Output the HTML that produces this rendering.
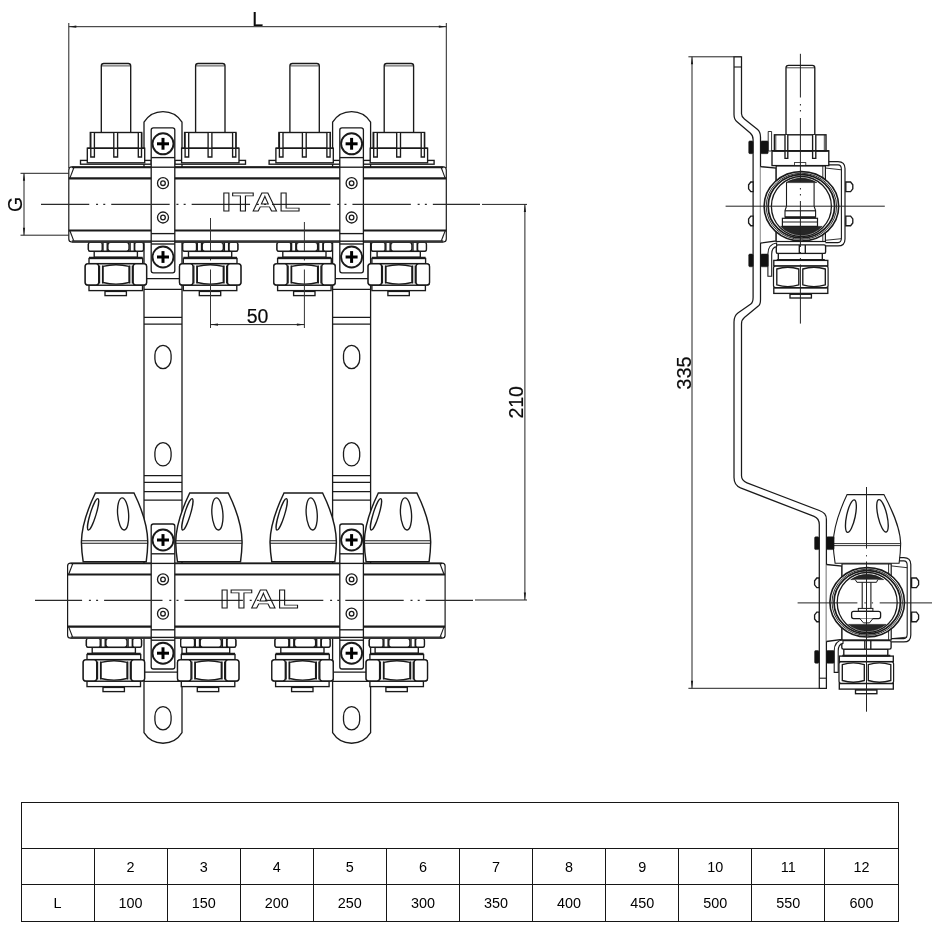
<!DOCTYPE html>
<html lang="en"><head><meta charset="utf-8"><title>Manifold dimensions</title>
<style>
html,body{margin:0;padding:0;background:#fff}
body{width:941px;height:929px;position:relative;overflow:hidden;will-change:transform;font-family:"Liberation Sans",sans-serif;color:#111}
svg{position:absolute;left:0;top:0;display:block}
svg text{font-family:"Liberation Sans",sans-serif}
table.t{position:absolute;left:20.5px;top:801.5px;width:878px;border-collapse:collapse;table-layout:fixed;font-size:14.4px;text-align:center;color:#000}
table.t td{border:1px solid #161616;padding:2px 0 0 0;vertical-align:middle;line-height:1}
tr.h td{height:43px} tr.a td{height:33.5px} tr.b td{height:36px;padding-top:0}
</style></head><body>
<svg width="941" height="929" viewBox="0 0 941 929" shape-rendering="geometricPrecision">
<g id="front">
<line x1="68.8" y1="23" x2="68.8" y2="168" stroke="#222" stroke-width="1"/>
<line x1="446.3" y1="23" x2="446.3" y2="168" stroke="#222" stroke-width="1"/>
<line x1="68.8" y1="26.7" x2="446.3" y2="26.7" stroke="#222" stroke-width="1"/>
<polygon points="68.8,26.7 76.3,25.6 76.3,27.8" fill="#1a1a1a"/>
<polygon points="446.3,26.7 438.8,27.8 438.8,25.6" fill="#1a1a1a"/>
<text x="257.7" y="25.5" font-size="19.5" text-anchor="middle" fill="#0a0a0a" stroke="#0a0a0a" stroke-width="0.18">L</text>
<line x1="20.5" y1="173.3" x2="68.8" y2="173.3" stroke="#222" stroke-width="1"/>
<line x1="20.5" y1="235.2" x2="68.8" y2="235.2" stroke="#222" stroke-width="1"/>
<line x1="24" y1="173.3" x2="24" y2="235.2" stroke="#222" stroke-width="1"/>
<polygon points="24,173.3 25.1,180.8 22.9,180.8" fill="#1a1a1a"/>
<polygon points="24,235.2 22.9,227.7 25.1,227.7" fill="#1a1a1a"/>
<text x="22.3" y="204.3" font-size="19.5" text-anchor="middle" fill="#0a0a0a" stroke="#0a0a0a" stroke-width="0.18" transform="rotate(-90 22.3 204.3)">G</text>
<line x1="482" y1="204.4" x2="527" y2="204.4" stroke="#222" stroke-width="1"/>
<line x1="475" y1="600" x2="527" y2="600" stroke="#222" stroke-width="1"/>
<line x1="524.9" y1="204.4" x2="524.9" y2="600" stroke="#222" stroke-width="1"/>
<polygon points="524.9,204.4 526,211.9 523.8,211.9" fill="#1a1a1a"/>
<polygon points="524.9,600 523.8,592.5 526,592.5" fill="#1a1a1a"/>
<text x="522.6" y="402.3" font-size="19.5" text-anchor="middle" fill="#0a0a0a" stroke="#0a0a0a" stroke-width="0.18" transform="rotate(-90 522.6 402.3)">210</text>
<line x1="688.4" y1="56.8" x2="741.3" y2="56.8" stroke="#222" stroke-width="1"/>
<line x1="688.4" y1="688.3" x2="826" y2="688.3" stroke="#222" stroke-width="1"/>
<line x1="692" y1="56.8" x2="692" y2="688.3" stroke="#222" stroke-width="1"/>
<polygon points="692,56.8 693.1,64.3 690.9,64.3" fill="#1a1a1a"/>
<polygon points="692,688.3 690.9,680.8 693.1,680.8" fill="#1a1a1a"/>
<text x="691" y="373" font-size="20" text-anchor="middle" fill="#0a0a0a" stroke="#0a0a0a" stroke-width="0.18" transform="rotate(-90 691 373)">335</text>
<path d="M144,732.7 L144,122.2 A22.4,22.4 0 0 1 182,122.2 L182,732.7 A22.4,22.4 0 0 1 144,732.7 Z" fill="#fff" stroke="#1a1a1a" stroke-width="1.3"/>
<line x1="144" y1="278.6" x2="182" y2="278.6" stroke="#1a1a1a" stroke-width="1.25"/>
<line x1="144" y1="289.3" x2="182" y2="289.3" stroke="#1a1a1a" stroke-width="1.25"/>
<line x1="144" y1="317.3" x2="182" y2="317.3" stroke="#1a1a1a" stroke-width="1.25"/>
<line x1="144" y1="324" x2="182" y2="324" stroke="#1a1a1a" stroke-width="1.25"/>
<line x1="144" y1="475.6" x2="182" y2="475.6" stroke="#1a1a1a" stroke-width="1.25"/>
<line x1="144" y1="482.3" x2="182" y2="482.3" stroke="#1a1a1a" stroke-width="1.25"/>
<line x1="144" y1="491.5" x2="182" y2="491.5" stroke="#1a1a1a" stroke-width="1.25"/>
<line x1="144" y1="500.2" x2="182" y2="500.2" stroke="#1a1a1a" stroke-width="1.25"/>
<line x1="144" y1="672" x2="182" y2="672" stroke="#1a1a1a" stroke-width="1.25"/>
<line x1="144" y1="681.3" x2="182" y2="681.3" stroke="#1a1a1a" stroke-width="1.25"/>
<rect x="154.9" y="345.4" width="16.2" height="23.2" rx="8.1" ry="9.6" fill="none" stroke="#1a1a1a" stroke-width="1.3"/>
<rect x="154.9" y="442.7" width="16.2" height="23.2" rx="8.1" ry="9.6" fill="none" stroke="#1a1a1a" stroke-width="1.3"/>
<rect x="154.9" y="706.6" width="16.2" height="23.2" rx="8.1" ry="9.6" fill="none" stroke="#1a1a1a" stroke-width="1.3"/>
<path d="M332.6,732.7 L332.6,122.2 A22.4,22.4 0 0 1 370.6,122.2 L370.6,732.7 A22.4,22.4 0 0 1 332.6,732.7 Z" fill="#fff" stroke="#1a1a1a" stroke-width="1.3"/>
<line x1="332.6" y1="278.6" x2="370.6" y2="278.6" stroke="#1a1a1a" stroke-width="1.25"/>
<line x1="332.6" y1="289.3" x2="370.6" y2="289.3" stroke="#1a1a1a" stroke-width="1.25"/>
<line x1="332.6" y1="317.3" x2="370.6" y2="317.3" stroke="#1a1a1a" stroke-width="1.25"/>
<line x1="332.6" y1="324" x2="370.6" y2="324" stroke="#1a1a1a" stroke-width="1.25"/>
<line x1="332.6" y1="475.6" x2="370.6" y2="475.6" stroke="#1a1a1a" stroke-width="1.25"/>
<line x1="332.6" y1="482.3" x2="370.6" y2="482.3" stroke="#1a1a1a" stroke-width="1.25"/>
<line x1="332.6" y1="491.5" x2="370.6" y2="491.5" stroke="#1a1a1a" stroke-width="1.25"/>
<line x1="332.6" y1="500.2" x2="370.6" y2="500.2" stroke="#1a1a1a" stroke-width="1.25"/>
<line x1="332.6" y1="672" x2="370.6" y2="672" stroke="#1a1a1a" stroke-width="1.25"/>
<line x1="332.6" y1="681.3" x2="370.6" y2="681.3" stroke="#1a1a1a" stroke-width="1.25"/>
<rect x="343.5" y="345.4" width="16.2" height="23.2" rx="8.1" ry="9.6" fill="none" stroke="#1a1a1a" stroke-width="1.3"/>
<rect x="343.5" y="442.7" width="16.2" height="23.2" rx="8.1" ry="9.6" fill="none" stroke="#1a1a1a" stroke-width="1.3"/>
<rect x="343.5" y="706.6" width="16.2" height="23.2" rx="8.1" ry="9.6" fill="none" stroke="#1a1a1a" stroke-width="1.3"/>
<path d="M101.3,132.3 L101.3,66 Q101.3,63.5 103.8,63.5 L128.2,63.5 Q130.7,63.5 130.7,66 L130.7,132.3" fill="#fff" stroke="#1a1a1a" stroke-width="1.35"/>
<line x1="101.8" y1="65.9" x2="130.2" y2="65.9" stroke="#1a1a1a" stroke-width="0.8"/>
<rect x="80.5" y="160.4" width="70.7" height="3.8" fill="#fff" stroke="#1a1a1a" stroke-width="1.35"/>
<rect x="87.3" y="148.2" width="57.4" height="14.6" fill="#fff" stroke="#1a1a1a" stroke-width="1.35"/>
<rect x="90.3" y="132.5" width="51.4" height="15.7" fill="#fff" stroke="#1a1a1a" stroke-width="1.4"/>
<path d="M90.8,133 L90.8,157 L94.4,157 L94.4,133" fill="#fff" stroke="#1a1a1a" stroke-width="1.35"/>
<path d="M113.8,133 L113.8,157 L117.6,157 L117.6,133" fill="#fff" stroke="#1a1a1a" stroke-width="1.35"/>
<path d="M138.3,133 L138.3,157 L141.5,157 L141.5,133" fill="#fff" stroke="#1a1a1a" stroke-width="1.35"/>
<line x1="87.3" y1="148.2" x2="144.7" y2="148.2" stroke="#1a1a1a" stroke-width="1.6"/>
<path d="M195.6,132.3 L195.6,66 Q195.6,63.5 198.1,63.5 L222.5,63.5 Q225,63.5 225,66 L225,132.3" fill="#fff" stroke="#1a1a1a" stroke-width="1.35"/>
<line x1="196.1" y1="65.9" x2="224.5" y2="65.9" stroke="#1a1a1a" stroke-width="0.8"/>
<rect x="174.8" y="160.4" width="70.7" height="3.8" fill="#fff" stroke="#1a1a1a" stroke-width="1.35"/>
<rect x="181.6" y="148.2" width="57.4" height="14.6" fill="#fff" stroke="#1a1a1a" stroke-width="1.35"/>
<rect x="184.6" y="132.5" width="51.4" height="15.7" fill="#fff" stroke="#1a1a1a" stroke-width="1.4"/>
<path d="M185.1,133 L185.1,157 L188.7,157 L188.7,133" fill="#fff" stroke="#1a1a1a" stroke-width="1.35"/>
<path d="M208.1,133 L208.1,157 L211.9,157 L211.9,133" fill="#fff" stroke="#1a1a1a" stroke-width="1.35"/>
<path d="M232.6,133 L232.6,157 L235.8,157 L235.8,133" fill="#fff" stroke="#1a1a1a" stroke-width="1.35"/>
<line x1="181.6" y1="148.2" x2="239" y2="148.2" stroke="#1a1a1a" stroke-width="1.6"/>
<path d="M289.9,132.3 L289.9,66 Q289.9,63.5 292.4,63.5 L316.8,63.5 Q319.3,63.5 319.3,66 L319.3,132.3" fill="#fff" stroke="#1a1a1a" stroke-width="1.35"/>
<line x1="290.4" y1="65.9" x2="318.8" y2="65.9" stroke="#1a1a1a" stroke-width="0.8"/>
<rect x="269.1" y="160.4" width="70.7" height="3.8" fill="#fff" stroke="#1a1a1a" stroke-width="1.35"/>
<rect x="275.9" y="148.2" width="57.4" height="14.6" fill="#fff" stroke="#1a1a1a" stroke-width="1.35"/>
<rect x="278.9" y="132.5" width="51.4" height="15.7" fill="#fff" stroke="#1a1a1a" stroke-width="1.4"/>
<path d="M279.4,133 L279.4,157 L283,157 L283,133" fill="#fff" stroke="#1a1a1a" stroke-width="1.35"/>
<path d="M302.4,133 L302.4,157 L306.2,157 L306.2,133" fill="#fff" stroke="#1a1a1a" stroke-width="1.35"/>
<path d="M326.9,133 L326.9,157 L330.1,157 L330.1,133" fill="#fff" stroke="#1a1a1a" stroke-width="1.35"/>
<line x1="275.9" y1="148.2" x2="333.3" y2="148.2" stroke="#1a1a1a" stroke-width="1.6"/>
<path d="M384.2,132.3 L384.2,66 Q384.2,63.5 386.7,63.5 L411.1,63.5 Q413.6,63.5 413.6,66 L413.6,132.3" fill="#fff" stroke="#1a1a1a" stroke-width="1.35"/>
<line x1="384.7" y1="65.9" x2="413.1" y2="65.9" stroke="#1a1a1a" stroke-width="0.8"/>
<rect x="363.4" y="160.4" width="70.7" height="3.8" fill="#fff" stroke="#1a1a1a" stroke-width="1.35"/>
<rect x="370.2" y="148.2" width="57.4" height="14.6" fill="#fff" stroke="#1a1a1a" stroke-width="1.35"/>
<rect x="373.2" y="132.5" width="51.4" height="15.7" fill="#fff" stroke="#1a1a1a" stroke-width="1.4"/>
<path d="M373.7,133 L373.7,157 L377.3,157 L377.3,133" fill="#fff" stroke="#1a1a1a" stroke-width="1.35"/>
<path d="M396.7,133 L396.7,157 L400.5,157 L400.5,133" fill="#fff" stroke="#1a1a1a" stroke-width="1.35"/>
<path d="M421.2,133 L421.2,157 L424.4,157 L424.4,133" fill="#fff" stroke="#1a1a1a" stroke-width="1.35"/>
<line x1="370.2" y1="148.2" x2="427.6" y2="148.2" stroke="#1a1a1a" stroke-width="1.6"/>
<rect x="105" y="291" width="21.4" height="4.6" fill="#fff" stroke="#1a1a1a" stroke-width="1.35"/>
<line x1="105" y1="291.2" x2="126.4" y2="291.2" stroke="#1a1a1a" stroke-width="1.8"/>
<rect x="89" y="285.2" width="53.5" height="5.4" fill="#fff" stroke="#1a1a1a" stroke-width="1.35"/>
<rect x="89" y="258.5" width="53.7" height="5.1" fill="#fff" stroke="#1a1a1a" stroke-width="1.35"/>
<rect x="94.2" y="251.4" width="43.2" height="5.8" fill="#fff" stroke="#1a1a1a" stroke-width="1.35"/>
<line x1="89" y1="257.8" x2="142.7" y2="257.8" stroke="#1a1a1a" stroke-width="2"/>
<rect x="88.4" y="242.4" width="55.1" height="8.8" rx="1.8" fill="#fff" stroke="#1a1a1a" stroke-width="1.35"/>
<rect x="88.4" y="242.4" width="13.8" height="8.8" rx="1.8" fill="#fff" stroke="#1a1a1a" stroke-width="1.35"/>
<rect x="107.9" y="242.4" width="21.1" height="8.8" rx="2.5" fill="#fff" stroke="#1a1a1a" stroke-width="1.35"/>
<rect x="134.7" y="242.4" width="8.8" height="8.8" rx="1.8" fill="#fff" stroke="#1a1a1a" stroke-width="1.35"/>
<line x1="103" y1="242.6" x2="103" y2="251" stroke="#1a1a1a" stroke-width="1.35"/>
<line x1="107.2" y1="242.6" x2="107.2" y2="251" stroke="#1a1a1a" stroke-width="1.35"/>
<line x1="130.1" y1="242.6" x2="130.1" y2="251" stroke="#1a1a1a" stroke-width="1.35"/>
<line x1="134.3" y1="242.6" x2="134.3" y2="251" stroke="#1a1a1a" stroke-width="1.35"/>
<rect x="85.2" y="263.9" width="61.4" height="21.1" rx="2.5" fill="#fff" stroke="#1a1a1a" stroke-width="1.2"/>
<rect x="85.2" y="263.9" width="13.5" height="21.1" rx="2.5" fill="#fff" stroke="#1a1a1a" stroke-width="1.35"/>
<rect x="133.2" y="263.9" width="13.4" height="21.1" rx="2.5" fill="#fff" stroke="#1a1a1a" stroke-width="1.35"/>
<path d="M103,266.4 Q116,263.2 129,266.4 L129,282.5 Q116,285.7 103,282.5 Z" fill="#fff" stroke="#1a1a1a" stroke-width="1.35"/>
<line x1="99.5" y1="265.5" x2="99.5" y2="283.5" stroke="#1a1a1a" stroke-width="1.35"/>
<line x1="102.6" y1="265.5" x2="102.6" y2="283.5" stroke="#1a1a1a" stroke-width="1.35"/>
<line x1="129.7" y1="265.5" x2="129.7" y2="283.5" stroke="#1a1a1a" stroke-width="1.35"/>
<line x1="132.4" y1="265.5" x2="132.4" y2="283.5" stroke="#1a1a1a" stroke-width="1.35"/>
<rect x="199.3" y="291" width="21.4" height="4.6" fill="#fff" stroke="#1a1a1a" stroke-width="1.35"/>
<line x1="199.3" y1="291.2" x2="220.7" y2="291.2" stroke="#1a1a1a" stroke-width="1.8"/>
<rect x="183.3" y="285.2" width="53.5" height="5.4" fill="#fff" stroke="#1a1a1a" stroke-width="1.35"/>
<rect x="183.3" y="258.5" width="53.7" height="5.1" fill="#fff" stroke="#1a1a1a" stroke-width="1.35"/>
<rect x="188.5" y="251.4" width="43.2" height="5.8" fill="#fff" stroke="#1a1a1a" stroke-width="1.35"/>
<line x1="183.3" y1="257.8" x2="237" y2="257.8" stroke="#1a1a1a" stroke-width="2"/>
<rect x="182.7" y="242.4" width="55.1" height="8.8" rx="1.8" fill="#fff" stroke="#1a1a1a" stroke-width="1.35"/>
<rect x="182.7" y="242.4" width="13.8" height="8.8" rx="1.8" fill="#fff" stroke="#1a1a1a" stroke-width="1.35"/>
<rect x="202.2" y="242.4" width="21.1" height="8.8" rx="2.5" fill="#fff" stroke="#1a1a1a" stroke-width="1.35"/>
<rect x="229" y="242.4" width="8.8" height="8.8" rx="1.8" fill="#fff" stroke="#1a1a1a" stroke-width="1.35"/>
<line x1="197.3" y1="242.6" x2="197.3" y2="251" stroke="#1a1a1a" stroke-width="1.35"/>
<line x1="201.5" y1="242.6" x2="201.5" y2="251" stroke="#1a1a1a" stroke-width="1.35"/>
<line x1="224.4" y1="242.6" x2="224.4" y2="251" stroke="#1a1a1a" stroke-width="1.35"/>
<line x1="228.6" y1="242.6" x2="228.6" y2="251" stroke="#1a1a1a" stroke-width="1.35"/>
<rect x="179.5" y="263.9" width="61.4" height="21.1" rx="2.5" fill="#fff" stroke="#1a1a1a" stroke-width="1.2"/>
<rect x="179.5" y="263.9" width="13.5" height="21.1" rx="2.5" fill="#fff" stroke="#1a1a1a" stroke-width="1.35"/>
<rect x="227.5" y="263.9" width="13.4" height="21.1" rx="2.5" fill="#fff" stroke="#1a1a1a" stroke-width="1.35"/>
<path d="M197.3,266.4 Q210.3,263.2 223.3,266.4 L223.3,282.5 Q210.3,285.7 197.3,282.5 Z" fill="#fff" stroke="#1a1a1a" stroke-width="1.35"/>
<line x1="193.8" y1="265.5" x2="193.8" y2="283.5" stroke="#1a1a1a" stroke-width="1.35"/>
<line x1="196.9" y1="265.5" x2="196.9" y2="283.5" stroke="#1a1a1a" stroke-width="1.35"/>
<line x1="224" y1="265.5" x2="224" y2="283.5" stroke="#1a1a1a" stroke-width="1.35"/>
<line x1="226.7" y1="265.5" x2="226.7" y2="283.5" stroke="#1a1a1a" stroke-width="1.35"/>
<rect x="293.6" y="291" width="21.4" height="4.6" fill="#fff" stroke="#1a1a1a" stroke-width="1.35"/>
<line x1="293.6" y1="291.2" x2="315" y2="291.2" stroke="#1a1a1a" stroke-width="1.8"/>
<rect x="277.6" y="285.2" width="53.5" height="5.4" fill="#fff" stroke="#1a1a1a" stroke-width="1.35"/>
<rect x="277.6" y="258.5" width="53.7" height="5.1" fill="#fff" stroke="#1a1a1a" stroke-width="1.35"/>
<rect x="282.8" y="251.4" width="43.2" height="5.8" fill="#fff" stroke="#1a1a1a" stroke-width="1.35"/>
<line x1="277.6" y1="257.8" x2="331.3" y2="257.8" stroke="#1a1a1a" stroke-width="2"/>
<rect x="277" y="242.4" width="55.1" height="8.8" rx="1.8" fill="#fff" stroke="#1a1a1a" stroke-width="1.35"/>
<rect x="277" y="242.4" width="13.8" height="8.8" rx="1.8" fill="#fff" stroke="#1a1a1a" stroke-width="1.35"/>
<rect x="296.5" y="242.4" width="21.1" height="8.8" rx="2.5" fill="#fff" stroke="#1a1a1a" stroke-width="1.35"/>
<rect x="323.3" y="242.4" width="8.8" height="8.8" rx="1.8" fill="#fff" stroke="#1a1a1a" stroke-width="1.35"/>
<line x1="291.6" y1="242.6" x2="291.6" y2="251" stroke="#1a1a1a" stroke-width="1.35"/>
<line x1="295.8" y1="242.6" x2="295.8" y2="251" stroke="#1a1a1a" stroke-width="1.35"/>
<line x1="318.7" y1="242.6" x2="318.7" y2="251" stroke="#1a1a1a" stroke-width="1.35"/>
<line x1="322.9" y1="242.6" x2="322.9" y2="251" stroke="#1a1a1a" stroke-width="1.35"/>
<rect x="273.8" y="263.9" width="61.4" height="21.1" rx="2.5" fill="#fff" stroke="#1a1a1a" stroke-width="1.2"/>
<rect x="273.8" y="263.9" width="13.5" height="21.1" rx="2.5" fill="#fff" stroke="#1a1a1a" stroke-width="1.35"/>
<rect x="321.8" y="263.9" width="13.4" height="21.1" rx="2.5" fill="#fff" stroke="#1a1a1a" stroke-width="1.35"/>
<path d="M291.6,266.4 Q304.6,263.2 317.6,266.4 L317.6,282.5 Q304.6,285.7 291.6,282.5 Z" fill="#fff" stroke="#1a1a1a" stroke-width="1.35"/>
<line x1="288.1" y1="265.5" x2="288.1" y2="283.5" stroke="#1a1a1a" stroke-width="1.35"/>
<line x1="291.2" y1="265.5" x2="291.2" y2="283.5" stroke="#1a1a1a" stroke-width="1.35"/>
<line x1="318.3" y1="265.5" x2="318.3" y2="283.5" stroke="#1a1a1a" stroke-width="1.35"/>
<line x1="321" y1="265.5" x2="321" y2="283.5" stroke="#1a1a1a" stroke-width="1.35"/>
<rect x="387.9" y="291" width="21.4" height="4.6" fill="#fff" stroke="#1a1a1a" stroke-width="1.35"/>
<line x1="387.9" y1="291.2" x2="409.3" y2="291.2" stroke="#1a1a1a" stroke-width="1.8"/>
<rect x="371.9" y="285.2" width="53.5" height="5.4" fill="#fff" stroke="#1a1a1a" stroke-width="1.35"/>
<rect x="371.9" y="258.5" width="53.7" height="5.1" fill="#fff" stroke="#1a1a1a" stroke-width="1.35"/>
<rect x="377.1" y="251.4" width="43.2" height="5.8" fill="#fff" stroke="#1a1a1a" stroke-width="1.35"/>
<line x1="371.9" y1="257.8" x2="425.6" y2="257.8" stroke="#1a1a1a" stroke-width="2"/>
<rect x="371.3" y="242.4" width="55.1" height="8.8" rx="1.8" fill="#fff" stroke="#1a1a1a" stroke-width="1.35"/>
<rect x="371.3" y="242.4" width="13.8" height="8.8" rx="1.8" fill="#fff" stroke="#1a1a1a" stroke-width="1.35"/>
<rect x="390.8" y="242.4" width="21.1" height="8.8" rx="2.5" fill="#fff" stroke="#1a1a1a" stroke-width="1.35"/>
<rect x="417.6" y="242.4" width="8.8" height="8.8" rx="1.8" fill="#fff" stroke="#1a1a1a" stroke-width="1.35"/>
<line x1="385.9" y1="242.6" x2="385.9" y2="251" stroke="#1a1a1a" stroke-width="1.35"/>
<line x1="390.1" y1="242.6" x2="390.1" y2="251" stroke="#1a1a1a" stroke-width="1.35"/>
<line x1="413" y1="242.6" x2="413" y2="251" stroke="#1a1a1a" stroke-width="1.35"/>
<line x1="417.2" y1="242.6" x2="417.2" y2="251" stroke="#1a1a1a" stroke-width="1.35"/>
<rect x="368.1" y="263.9" width="61.4" height="21.1" rx="2.5" fill="#fff" stroke="#1a1a1a" stroke-width="1.2"/>
<rect x="368.1" y="263.9" width="13.5" height="21.1" rx="2.5" fill="#fff" stroke="#1a1a1a" stroke-width="1.35"/>
<rect x="416.1" y="263.9" width="13.4" height="21.1" rx="2.5" fill="#fff" stroke="#1a1a1a" stroke-width="1.35"/>
<path d="M385.9,266.4 Q398.9,263.2 411.9,266.4 L411.9,282.5 Q398.9,285.7 385.9,282.5 Z" fill="#fff" stroke="#1a1a1a" stroke-width="1.35"/>
<line x1="382.4" y1="265.5" x2="382.4" y2="283.5" stroke="#1a1a1a" stroke-width="1.35"/>
<line x1="385.5" y1="265.5" x2="385.5" y2="283.5" stroke="#1a1a1a" stroke-width="1.35"/>
<line x1="412.6" y1="265.5" x2="412.6" y2="283.5" stroke="#1a1a1a" stroke-width="1.35"/>
<line x1="415.3" y1="265.5" x2="415.3" y2="283.5" stroke="#1a1a1a" stroke-width="1.35"/>
<path d="M95.4,493 L134,493 C140.4,506 147.5,524 147.8,542 Q147.6,552 146.2,561.8 L83.2,561.8 Q81.6,552 81.4,542 C81.7,524 89.1,506 95.4,493 Z" fill="#fff" stroke="#1a1a1a" stroke-width="1.45"/>
<line x1="81.4" y1="540.8" x2="147.8" y2="540.8" stroke="#1a1a1a" stroke-width="1.1"/>
<line x1="81.4" y1="543.2" x2="147.8" y2="543.2" stroke="#1a1a1a" stroke-width="1.1"/>
<ellipse cx="93.1" cy="514.3" rx="2.9" ry="16.4" fill="none" stroke="#1a1a1a" stroke-width="1.35" transform="rotate(17 93.1 514.3)"/>
<ellipse cx="123.1" cy="513.9" rx="5.5" ry="16.1" fill="none" stroke="#1a1a1a" stroke-width="1.35" transform="rotate(-4 123.1 513.9)"/>
<path d="M189.7,493 L228.3,493 C234.7,506 241.8,524 242.1,542 Q241.9,552 240.5,561.8 L177.5,561.8 Q175.9,552 175.7,542 C176,524 183.4,506 189.7,493 Z" fill="#fff" stroke="#1a1a1a" stroke-width="1.45"/>
<line x1="175.7" y1="540.8" x2="242.1" y2="540.8" stroke="#1a1a1a" stroke-width="1.1"/>
<line x1="175.7" y1="543.2" x2="242.1" y2="543.2" stroke="#1a1a1a" stroke-width="1.1"/>
<ellipse cx="187.4" cy="514.3" rx="2.9" ry="16.4" fill="none" stroke="#1a1a1a" stroke-width="1.35" transform="rotate(17 187.4 514.3)"/>
<ellipse cx="217.4" cy="513.9" rx="5.5" ry="16.1" fill="none" stroke="#1a1a1a" stroke-width="1.35" transform="rotate(-4 217.4 513.9)"/>
<path d="M284,493 L322.6,493 C329,506 336.1,524 336.4,542 Q336.2,552 334.8,561.8 L271.8,561.8 Q270.2,552 270,542 C270.3,524 277.7,506 284,493 Z" fill="#fff" stroke="#1a1a1a" stroke-width="1.45"/>
<line x1="270" y1="540.8" x2="336.4" y2="540.8" stroke="#1a1a1a" stroke-width="1.1"/>
<line x1="270" y1="543.2" x2="336.4" y2="543.2" stroke="#1a1a1a" stroke-width="1.1"/>
<ellipse cx="281.7" cy="514.3" rx="2.9" ry="16.4" fill="none" stroke="#1a1a1a" stroke-width="1.35" transform="rotate(17 281.7 514.3)"/>
<ellipse cx="311.7" cy="513.9" rx="5.5" ry="16.1" fill="none" stroke="#1a1a1a" stroke-width="1.35" transform="rotate(-4 311.7 513.9)"/>
<path d="M378.3,493 L416.9,493 C423.3,506 430.4,524 430.7,542 Q430.5,552 429.1,561.8 L366.1,561.8 Q364.5,552 364.3,542 C364.6,524 372,506 378.3,493 Z" fill="#fff" stroke="#1a1a1a" stroke-width="1.45"/>
<line x1="364.3" y1="540.8" x2="430.7" y2="540.8" stroke="#1a1a1a" stroke-width="1.1"/>
<line x1="364.3" y1="543.2" x2="430.7" y2="543.2" stroke="#1a1a1a" stroke-width="1.1"/>
<ellipse cx="376" cy="514.3" rx="2.9" ry="16.4" fill="none" stroke="#1a1a1a" stroke-width="1.35" transform="rotate(17 376 514.3)"/>
<ellipse cx="406" cy="513.9" rx="5.5" ry="16.1" fill="none" stroke="#1a1a1a" stroke-width="1.35" transform="rotate(-4 406 513.9)"/>
<rect x="103" y="687" width="21.4" height="4.6" fill="#fff" stroke="#1a1a1a" stroke-width="1.35"/>
<line x1="103" y1="687.2" x2="124.4" y2="687.2" stroke="#1a1a1a" stroke-width="1.8"/>
<rect x="87" y="681.2" width="53.5" height="5.4" fill="#fff" stroke="#1a1a1a" stroke-width="1.35"/>
<rect x="87" y="654.5" width="53.7" height="5.1" fill="#fff" stroke="#1a1a1a" stroke-width="1.35"/>
<rect x="92.2" y="647.4" width="43.2" height="5.8" fill="#fff" stroke="#1a1a1a" stroke-width="1.35"/>
<line x1="87" y1="653.8" x2="140.7" y2="653.8" stroke="#1a1a1a" stroke-width="2"/>
<rect x="86.4" y="638.4" width="55.1" height="8.8" rx="1.8" fill="#fff" stroke="#1a1a1a" stroke-width="1.35"/>
<rect x="86.4" y="638.4" width="13.8" height="8.8" rx="1.8" fill="#fff" stroke="#1a1a1a" stroke-width="1.35"/>
<rect x="105.9" y="638.4" width="21.1" height="8.8" rx="2.5" fill="#fff" stroke="#1a1a1a" stroke-width="1.35"/>
<rect x="132.7" y="638.4" width="8.8" height="8.8" rx="1.8" fill="#fff" stroke="#1a1a1a" stroke-width="1.35"/>
<line x1="101" y1="638.6" x2="101" y2="647" stroke="#1a1a1a" stroke-width="1.35"/>
<line x1="105.2" y1="638.6" x2="105.2" y2="647" stroke="#1a1a1a" stroke-width="1.35"/>
<line x1="128.1" y1="638.6" x2="128.1" y2="647" stroke="#1a1a1a" stroke-width="1.35"/>
<line x1="132.3" y1="638.6" x2="132.3" y2="647" stroke="#1a1a1a" stroke-width="1.35"/>
<rect x="83.2" y="659.9" width="61.4" height="21.1" rx="2.5" fill="#fff" stroke="#1a1a1a" stroke-width="1.2"/>
<rect x="83.2" y="659.9" width="13.5" height="21.1" rx="2.5" fill="#fff" stroke="#1a1a1a" stroke-width="1.35"/>
<rect x="131.2" y="659.9" width="13.4" height="21.1" rx="2.5" fill="#fff" stroke="#1a1a1a" stroke-width="1.35"/>
<path d="M101,662.4 Q114,659.2 127,662.4 L127,678.5 Q114,681.7 101,678.5 Z" fill="#fff" stroke="#1a1a1a" stroke-width="1.35"/>
<line x1="97.5" y1="661.5" x2="97.5" y2="679.5" stroke="#1a1a1a" stroke-width="1.35"/>
<line x1="100.6" y1="661.5" x2="100.6" y2="679.5" stroke="#1a1a1a" stroke-width="1.35"/>
<line x1="127.7" y1="661.5" x2="127.7" y2="679.5" stroke="#1a1a1a" stroke-width="1.35"/>
<line x1="130.4" y1="661.5" x2="130.4" y2="679.5" stroke="#1a1a1a" stroke-width="1.35"/>
<rect x="197.3" y="687" width="21.4" height="4.6" fill="#fff" stroke="#1a1a1a" stroke-width="1.35"/>
<line x1="197.3" y1="687.2" x2="218.7" y2="687.2" stroke="#1a1a1a" stroke-width="1.8"/>
<rect x="181.3" y="681.2" width="53.5" height="5.4" fill="#fff" stroke="#1a1a1a" stroke-width="1.35"/>
<rect x="181.3" y="654.5" width="53.7" height="5.1" fill="#fff" stroke="#1a1a1a" stroke-width="1.35"/>
<rect x="186.5" y="647.4" width="43.2" height="5.8" fill="#fff" stroke="#1a1a1a" stroke-width="1.35"/>
<line x1="181.3" y1="653.8" x2="235" y2="653.8" stroke="#1a1a1a" stroke-width="2"/>
<rect x="180.7" y="638.4" width="55.1" height="8.8" rx="1.8" fill="#fff" stroke="#1a1a1a" stroke-width="1.35"/>
<rect x="180.7" y="638.4" width="13.8" height="8.8" rx="1.8" fill="#fff" stroke="#1a1a1a" stroke-width="1.35"/>
<rect x="200.2" y="638.4" width="21.1" height="8.8" rx="2.5" fill="#fff" stroke="#1a1a1a" stroke-width="1.35"/>
<rect x="227" y="638.4" width="8.8" height="8.8" rx="1.8" fill="#fff" stroke="#1a1a1a" stroke-width="1.35"/>
<line x1="195.3" y1="638.6" x2="195.3" y2="647" stroke="#1a1a1a" stroke-width="1.35"/>
<line x1="199.5" y1="638.6" x2="199.5" y2="647" stroke="#1a1a1a" stroke-width="1.35"/>
<line x1="222.4" y1="638.6" x2="222.4" y2="647" stroke="#1a1a1a" stroke-width="1.35"/>
<line x1="226.6" y1="638.6" x2="226.6" y2="647" stroke="#1a1a1a" stroke-width="1.35"/>
<rect x="177.5" y="659.9" width="61.4" height="21.1" rx="2.5" fill="#fff" stroke="#1a1a1a" stroke-width="1.2"/>
<rect x="177.5" y="659.9" width="13.5" height="21.1" rx="2.5" fill="#fff" stroke="#1a1a1a" stroke-width="1.35"/>
<rect x="225.5" y="659.9" width="13.4" height="21.1" rx="2.5" fill="#fff" stroke="#1a1a1a" stroke-width="1.35"/>
<path d="M195.3,662.4 Q208.3,659.2 221.3,662.4 L221.3,678.5 Q208.3,681.7 195.3,678.5 Z" fill="#fff" stroke="#1a1a1a" stroke-width="1.35"/>
<line x1="191.8" y1="661.5" x2="191.8" y2="679.5" stroke="#1a1a1a" stroke-width="1.35"/>
<line x1="194.9" y1="661.5" x2="194.9" y2="679.5" stroke="#1a1a1a" stroke-width="1.35"/>
<line x1="222" y1="661.5" x2="222" y2="679.5" stroke="#1a1a1a" stroke-width="1.35"/>
<line x1="224.7" y1="661.5" x2="224.7" y2="679.5" stroke="#1a1a1a" stroke-width="1.35"/>
<rect x="291.6" y="687" width="21.4" height="4.6" fill="#fff" stroke="#1a1a1a" stroke-width="1.35"/>
<line x1="291.6" y1="687.2" x2="313" y2="687.2" stroke="#1a1a1a" stroke-width="1.8"/>
<rect x="275.6" y="681.2" width="53.5" height="5.4" fill="#fff" stroke="#1a1a1a" stroke-width="1.35"/>
<rect x="275.6" y="654.5" width="53.7" height="5.1" fill="#fff" stroke="#1a1a1a" stroke-width="1.35"/>
<rect x="280.8" y="647.4" width="43.2" height="5.8" fill="#fff" stroke="#1a1a1a" stroke-width="1.35"/>
<line x1="275.6" y1="653.8" x2="329.3" y2="653.8" stroke="#1a1a1a" stroke-width="2"/>
<rect x="275" y="638.4" width="55.1" height="8.8" rx="1.8" fill="#fff" stroke="#1a1a1a" stroke-width="1.35"/>
<rect x="275" y="638.4" width="13.8" height="8.8" rx="1.8" fill="#fff" stroke="#1a1a1a" stroke-width="1.35"/>
<rect x="294.5" y="638.4" width="21.1" height="8.8" rx="2.5" fill="#fff" stroke="#1a1a1a" stroke-width="1.35"/>
<rect x="321.3" y="638.4" width="8.8" height="8.8" rx="1.8" fill="#fff" stroke="#1a1a1a" stroke-width="1.35"/>
<line x1="289.6" y1="638.6" x2="289.6" y2="647" stroke="#1a1a1a" stroke-width="1.35"/>
<line x1="293.8" y1="638.6" x2="293.8" y2="647" stroke="#1a1a1a" stroke-width="1.35"/>
<line x1="316.7" y1="638.6" x2="316.7" y2="647" stroke="#1a1a1a" stroke-width="1.35"/>
<line x1="320.9" y1="638.6" x2="320.9" y2="647" stroke="#1a1a1a" stroke-width="1.35"/>
<rect x="271.8" y="659.9" width="61.4" height="21.1" rx="2.5" fill="#fff" stroke="#1a1a1a" stroke-width="1.2"/>
<rect x="271.8" y="659.9" width="13.5" height="21.1" rx="2.5" fill="#fff" stroke="#1a1a1a" stroke-width="1.35"/>
<rect x="319.8" y="659.9" width="13.4" height="21.1" rx="2.5" fill="#fff" stroke="#1a1a1a" stroke-width="1.35"/>
<path d="M289.6,662.4 Q302.6,659.2 315.6,662.4 L315.6,678.5 Q302.6,681.7 289.6,678.5 Z" fill="#fff" stroke="#1a1a1a" stroke-width="1.35"/>
<line x1="286.1" y1="661.5" x2="286.1" y2="679.5" stroke="#1a1a1a" stroke-width="1.35"/>
<line x1="289.2" y1="661.5" x2="289.2" y2="679.5" stroke="#1a1a1a" stroke-width="1.35"/>
<line x1="316.3" y1="661.5" x2="316.3" y2="679.5" stroke="#1a1a1a" stroke-width="1.35"/>
<line x1="319" y1="661.5" x2="319" y2="679.5" stroke="#1a1a1a" stroke-width="1.35"/>
<rect x="385.9" y="687" width="21.4" height="4.6" fill="#fff" stroke="#1a1a1a" stroke-width="1.35"/>
<line x1="385.9" y1="687.2" x2="407.3" y2="687.2" stroke="#1a1a1a" stroke-width="1.8"/>
<rect x="369.9" y="681.2" width="53.5" height="5.4" fill="#fff" stroke="#1a1a1a" stroke-width="1.35"/>
<rect x="369.9" y="654.5" width="53.7" height="5.1" fill="#fff" stroke="#1a1a1a" stroke-width="1.35"/>
<rect x="375.1" y="647.4" width="43.2" height="5.8" fill="#fff" stroke="#1a1a1a" stroke-width="1.35"/>
<line x1="369.9" y1="653.8" x2="423.6" y2="653.8" stroke="#1a1a1a" stroke-width="2"/>
<rect x="369.3" y="638.4" width="55.1" height="8.8" rx="1.8" fill="#fff" stroke="#1a1a1a" stroke-width="1.35"/>
<rect x="369.3" y="638.4" width="13.8" height="8.8" rx="1.8" fill="#fff" stroke="#1a1a1a" stroke-width="1.35"/>
<rect x="388.8" y="638.4" width="21.1" height="8.8" rx="2.5" fill="#fff" stroke="#1a1a1a" stroke-width="1.35"/>
<rect x="415.6" y="638.4" width="8.8" height="8.8" rx="1.8" fill="#fff" stroke="#1a1a1a" stroke-width="1.35"/>
<line x1="383.9" y1="638.6" x2="383.9" y2="647" stroke="#1a1a1a" stroke-width="1.35"/>
<line x1="388.1" y1="638.6" x2="388.1" y2="647" stroke="#1a1a1a" stroke-width="1.35"/>
<line x1="411" y1="638.6" x2="411" y2="647" stroke="#1a1a1a" stroke-width="1.35"/>
<line x1="415.2" y1="638.6" x2="415.2" y2="647" stroke="#1a1a1a" stroke-width="1.35"/>
<rect x="366.1" y="659.9" width="61.4" height="21.1" rx="2.5" fill="#fff" stroke="#1a1a1a" stroke-width="1.2"/>
<rect x="366.1" y="659.9" width="13.5" height="21.1" rx="2.5" fill="#fff" stroke="#1a1a1a" stroke-width="1.35"/>
<rect x="414.1" y="659.9" width="13.4" height="21.1" rx="2.5" fill="#fff" stroke="#1a1a1a" stroke-width="1.35"/>
<path d="M383.9,662.4 Q396.9,659.2 409.9,662.4 L409.9,678.5 Q396.9,681.7 383.9,678.5 Z" fill="#fff" stroke="#1a1a1a" stroke-width="1.35"/>
<line x1="380.4" y1="661.5" x2="380.4" y2="679.5" stroke="#1a1a1a" stroke-width="1.35"/>
<line x1="383.5" y1="661.5" x2="383.5" y2="679.5" stroke="#1a1a1a" stroke-width="1.35"/>
<line x1="410.6" y1="661.5" x2="410.6" y2="679.5" stroke="#1a1a1a" stroke-width="1.35"/>
<line x1="413.3" y1="661.5" x2="413.3" y2="679.5" stroke="#1a1a1a" stroke-width="1.35"/>
<rect x="68.8" y="166.9" width="377.5" height="75.1" rx="3" fill="#fff" stroke="#1a1a1a" stroke-width="1.2"/>
<line x1="74.1" y1="167" x2="69.9" y2="178.1" stroke="#1a1a1a" stroke-width="1.1"/>
<line x1="74.1" y1="241.8" x2="69.9" y2="230.7" stroke="#1a1a1a" stroke-width="1.1"/>
<line x1="441" y1="167" x2="445.2" y2="178.1" stroke="#1a1a1a" stroke-width="1.1"/>
<line x1="441" y1="241.8" x2="445.2" y2="230.7" stroke="#1a1a1a" stroke-width="1.1"/>
<line x1="68.8" y1="178.3" x2="446.3" y2="178.3" stroke="#1a1a1a" stroke-width="2.2"/>
<line x1="68.8" y1="230.5" x2="446.3" y2="230.5" stroke="#1a1a1a" stroke-width="2.2"/>
<line x1="71.8" y1="167.3" x2="443.3" y2="167.3" stroke="#1a1a1a" stroke-width="1.7"/>
<line x1="71.8" y1="241.5" x2="443.3" y2="241.5" stroke="#333" stroke-width="2.3"/>
<rect x="67.6" y="563.1" width="377.5" height="75.1" rx="3" fill="#fff" stroke="#1a1a1a" stroke-width="1.2"/>
<line x1="72.9" y1="563.2" x2="68.7" y2="574.3" stroke="#1a1a1a" stroke-width="1.1"/>
<line x1="72.9" y1="638" x2="68.7" y2="626.9" stroke="#1a1a1a" stroke-width="1.1"/>
<line x1="439.8" y1="563.2" x2="444" y2="574.3" stroke="#1a1a1a" stroke-width="1.1"/>
<line x1="439.8" y1="638" x2="444" y2="626.9" stroke="#1a1a1a" stroke-width="1.1"/>
<line x1="67.6" y1="574.5" x2="445.1" y2="574.5" stroke="#1a1a1a" stroke-width="2.2"/>
<line x1="67.6" y1="626.7" x2="445.1" y2="626.7" stroke="#1a1a1a" stroke-width="2.2"/>
<line x1="70.6" y1="563.5" x2="442.1" y2="563.5" stroke="#1a1a1a" stroke-width="1.7"/>
<line x1="70.6" y1="637.7" x2="442.1" y2="637.7" stroke="#333" stroke-width="2.3"/>
<rect x="151.2" y="127.8" width="23.6" height="145" rx="2.2" fill="#fff" stroke="#1a1a1a" stroke-width="1.3"/>
<line x1="151.2" y1="157.6" x2="174.8" y2="157.6" stroke="#1a1a1a" stroke-width="1.35"/>
<line x1="151.2" y1="167.2" x2="174.8" y2="167.2" stroke="#1a1a1a" stroke-width="1.35"/>
<line x1="151.2" y1="233.6" x2="174.8" y2="233.6" stroke="#1a1a1a" stroke-width="1.35"/>
<line x1="151.2" y1="241.2" x2="174.8" y2="241.2" stroke="#1a1a1a" stroke-width="1.35"/>
<line x1="151.2" y1="244" x2="174.8" y2="244" stroke="#1a1a1a" stroke-width="1.35"/>
<circle cx="163" cy="143.8" r="10.5" fill="#fff" stroke="#1a1a1a" stroke-width="1.9"/>
<line x1="157" y1="143.8" x2="169" y2="143.8" stroke="#000" stroke-width="3"/>
<line x1="163" y1="137.9" x2="163" y2="149.7" stroke="#000" stroke-width="3"/>
<circle cx="163" cy="257" r="10.5" fill="#fff" stroke="#1a1a1a" stroke-width="1.9"/>
<line x1="157" y1="257" x2="169" y2="257" stroke="#000" stroke-width="3"/>
<line x1="163" y1="251.1" x2="163" y2="262.9" stroke="#000" stroke-width="3"/>
<circle cx="163" cy="183.2" r="5.5" fill="#fff" stroke="#1a1a1a" stroke-width="1.3"/>
<circle cx="163" cy="183.2" r="2.3" fill="none" stroke="#1a1a1a" stroke-width="1.3"/>
<circle cx="163" cy="217.5" r="5.5" fill="#fff" stroke="#1a1a1a" stroke-width="1.3"/>
<circle cx="163" cy="217.5" r="2.3" fill="none" stroke="#1a1a1a" stroke-width="1.3"/>
<rect x="151.2" y="524" width="23.6" height="145" rx="2.2" fill="#fff" stroke="#1a1a1a" stroke-width="1.3"/>
<line x1="151.2" y1="553.8" x2="174.8" y2="553.8" stroke="#1a1a1a" stroke-width="1.35"/>
<line x1="151.2" y1="563.4" x2="174.8" y2="563.4" stroke="#1a1a1a" stroke-width="1.35"/>
<line x1="151.2" y1="629.8" x2="174.8" y2="629.8" stroke="#1a1a1a" stroke-width="1.35"/>
<line x1="151.2" y1="637.4" x2="174.8" y2="637.4" stroke="#1a1a1a" stroke-width="1.35"/>
<line x1="151.2" y1="640.2" x2="174.8" y2="640.2" stroke="#1a1a1a" stroke-width="1.35"/>
<circle cx="163" cy="540" r="10.5" fill="#fff" stroke="#1a1a1a" stroke-width="1.9"/>
<line x1="157" y1="540" x2="169" y2="540" stroke="#000" stroke-width="3"/>
<line x1="163" y1="534.1" x2="163" y2="545.9" stroke="#000" stroke-width="3"/>
<circle cx="163" cy="653.2" r="10.5" fill="#fff" stroke="#1a1a1a" stroke-width="1.9"/>
<line x1="157" y1="653.2" x2="169" y2="653.2" stroke="#000" stroke-width="3"/>
<line x1="163" y1="647.3" x2="163" y2="659.1" stroke="#000" stroke-width="3"/>
<circle cx="163" cy="579.4" r="5.5" fill="#fff" stroke="#1a1a1a" stroke-width="1.3"/>
<circle cx="163" cy="579.4" r="2.3" fill="none" stroke="#1a1a1a" stroke-width="1.3"/>
<circle cx="163" cy="613.7" r="5.5" fill="#fff" stroke="#1a1a1a" stroke-width="1.3"/>
<circle cx="163" cy="613.7" r="2.3" fill="none" stroke="#1a1a1a" stroke-width="1.3"/>
<rect x="339.8" y="127.8" width="23.6" height="145" rx="2.2" fill="#fff" stroke="#1a1a1a" stroke-width="1.3"/>
<line x1="339.8" y1="157.6" x2="363.4" y2="157.6" stroke="#1a1a1a" stroke-width="1.35"/>
<line x1="339.8" y1="167.2" x2="363.4" y2="167.2" stroke="#1a1a1a" stroke-width="1.35"/>
<line x1="339.8" y1="233.6" x2="363.4" y2="233.6" stroke="#1a1a1a" stroke-width="1.35"/>
<line x1="339.8" y1="241.2" x2="363.4" y2="241.2" stroke="#1a1a1a" stroke-width="1.35"/>
<line x1="339.8" y1="244" x2="363.4" y2="244" stroke="#1a1a1a" stroke-width="1.35"/>
<circle cx="351.6" cy="143.8" r="10.5" fill="#fff" stroke="#1a1a1a" stroke-width="1.9"/>
<line x1="345.6" y1="143.8" x2="357.6" y2="143.8" stroke="#000" stroke-width="3"/>
<line x1="351.6" y1="137.9" x2="351.6" y2="149.7" stroke="#000" stroke-width="3"/>
<circle cx="351.6" cy="257" r="10.5" fill="#fff" stroke="#1a1a1a" stroke-width="1.9"/>
<line x1="345.6" y1="257" x2="357.6" y2="257" stroke="#000" stroke-width="3"/>
<line x1="351.6" y1="251.1" x2="351.6" y2="262.9" stroke="#000" stroke-width="3"/>
<circle cx="351.6" cy="183.2" r="5.5" fill="#fff" stroke="#1a1a1a" stroke-width="1.3"/>
<circle cx="351.6" cy="183.2" r="2.3" fill="none" stroke="#1a1a1a" stroke-width="1.3"/>
<circle cx="351.6" cy="217.5" r="5.5" fill="#fff" stroke="#1a1a1a" stroke-width="1.3"/>
<circle cx="351.6" cy="217.5" r="2.3" fill="none" stroke="#1a1a1a" stroke-width="1.3"/>
<rect x="339.8" y="524" width="23.6" height="145" rx="2.2" fill="#fff" stroke="#1a1a1a" stroke-width="1.3"/>
<line x1="339.8" y1="553.8" x2="363.4" y2="553.8" stroke="#1a1a1a" stroke-width="1.35"/>
<line x1="339.8" y1="563.4" x2="363.4" y2="563.4" stroke="#1a1a1a" stroke-width="1.35"/>
<line x1="339.8" y1="629.8" x2="363.4" y2="629.8" stroke="#1a1a1a" stroke-width="1.35"/>
<line x1="339.8" y1="637.4" x2="363.4" y2="637.4" stroke="#1a1a1a" stroke-width="1.35"/>
<line x1="339.8" y1="640.2" x2="363.4" y2="640.2" stroke="#1a1a1a" stroke-width="1.35"/>
<circle cx="351.6" cy="540" r="10.5" fill="#fff" stroke="#1a1a1a" stroke-width="1.9"/>
<line x1="345.6" y1="540" x2="357.6" y2="540" stroke="#000" stroke-width="3"/>
<line x1="351.6" y1="534.1" x2="351.6" y2="545.9" stroke="#000" stroke-width="3"/>
<circle cx="351.6" cy="653.2" r="10.5" fill="#fff" stroke="#1a1a1a" stroke-width="1.9"/>
<line x1="345.6" y1="653.2" x2="357.6" y2="653.2" stroke="#000" stroke-width="3"/>
<line x1="351.6" y1="647.3" x2="351.6" y2="659.1" stroke="#000" stroke-width="3"/>
<circle cx="351.6" cy="579.4" r="5.5" fill="#fff" stroke="#1a1a1a" stroke-width="1.3"/>
<circle cx="351.6" cy="579.4" r="2.3" fill="none" stroke="#1a1a1a" stroke-width="1.3"/>
<circle cx="351.6" cy="613.7" r="5.5" fill="#fff" stroke="#1a1a1a" stroke-width="1.3"/>
<circle cx="351.6" cy="613.7" r="2.3" fill="none" stroke="#1a1a1a" stroke-width="1.3"/>
<line x1="41" y1="204.4" x2="480" y2="204.4" stroke="#2a2a2a" stroke-width="1.15" stroke-dasharray="58.4 6.8 2 5.2 2 6" stroke-dashoffset="10.15"/>
<line x1="35" y1="600.3" x2="473" y2="600.3" stroke="#2a2a2a" stroke-width="1.15" stroke-dasharray="58.4 6.8 2 5.2 2 6" stroke-dashoffset="11.3"/>
<text transform="translate(221.4 211.4) scale(1.33 1)" font-size="26.3" font-weight="bold" letter-spacing="0.9" fill="none" stroke="#161616" stroke-width="0.85">ITAL</text>
<text transform="translate(219.8 607.6) scale(1.33 1)" font-size="26.3" font-weight="bold" letter-spacing="0.9" fill="none" stroke="#161616" stroke-width="0.85">ITAL</text>
<line x1="210.5" y1="218" x2="210.5" y2="251" stroke="#333" stroke-width="1"/>
<line x1="210.5" y1="269.5" x2="210.5" y2="328" stroke="#333" stroke-width="1"/>
<line x1="210.5" y1="259" x2="210.5" y2="260.5" stroke="#333" stroke-width="1"/>
<line x1="304.4" y1="222" x2="304.4" y2="251" stroke="#333" stroke-width="1"/>
<line x1="304.4" y1="269.5" x2="304.4" y2="328" stroke="#333" stroke-width="1"/>
<line x1="304.4" y1="259" x2="304.4" y2="260.5" stroke="#333" stroke-width="1"/>
<line x1="210.5" y1="324.6" x2="304.4" y2="324.6" stroke="#222" stroke-width="1"/>
<polygon points="210.5,324.6 218,323.5 218,325.7" fill="#1a1a1a"/>
<polygon points="304.4,324.6 296.9,325.7 296.9,323.5" fill="#1a1a1a"/>
<text x="257.5" y="322.8" font-size="19.5" text-anchor="middle" fill="#0a0a0a" stroke="#0a0a0a" stroke-width="0.18">50</text>
</g>
<g id="side">
<path d="M734,56.8 L734,114.4 C734,118.5 735,120.2 737.3,122.1 L750.2,133.1 C752.3,134.9 753.1,136.5 753.1,139.6 L753.1,297.4 C753.1,301.5 752.6,302.6 750.8,303.9 L737.9,312.9 C735,315 734,317.5 734,322 L734,477.6 C734,483.5 736,486 740.5,487.9 L814.1,516.4 C818,518 819.3,520.5 819.3,524.7 L819.3,688.3 L826.4,688.3 L826.4,519.6 C826.4,514.5 824.3,512.5 819.3,510.5 L747,482.8 C743,481.2 741.5,479.5 741.5,475.7 L741.5,323.9 C741.5,320.5 742.3,319.2 744.4,317.5 L758.6,305.8 C760.1,304.5 760.5,303 760.5,299.4 L760.5,137 C760.5,133 759.5,131 757.3,129.2 L744.4,118.9 C742.3,117.2 741.5,116 741.5,113.7 L741.5,56.8 Z" fill="#fff" stroke="#1a1a1a" stroke-width="1.25"/>
<line x1="734" y1="67" x2="741.5" y2="67" stroke="#1a1a1a" stroke-width="1.1"/>
<line x1="819.3" y1="678.2" x2="826.4" y2="678.2" stroke="#1a1a1a" stroke-width="1.1"/>
<path d="M786,134.5 L786,68 Q786,65.4 788.5,65.4 L812.3,65.4 Q814.8,65.4 814.8,68 L814.8,134.5" fill="#fff" stroke="#1a1a1a" stroke-width="1.35"/>
<line x1="786.4" y1="67.8" x2="814.4" y2="67.8" stroke="#1a1a1a" stroke-width="0.8"/>
<path d="M768.2,131.5 L771.6,131.5 L771.6,151 L768.2,151 Z" fill="#fff" stroke="#1a1a1a" stroke-width="0.9"/>
<rect x="772" y="150.8" width="56.8" height="14.8" fill="#fff" stroke="#1a1a1a" stroke-width="1.35"/>
<rect x="774.4" y="134.8" width="51.6" height="16" fill="#fff" stroke="#1a1a1a" stroke-width="1.4"/>
<path d="M785,135 L785,158.4 L787.8,158.4 L787.8,135" fill="#fff" stroke="#1a1a1a" stroke-width="1.35"/>
<path d="M812.6,135 L812.6,158.4 L815.8,158.4 L815.8,135" fill="#fff" stroke="#1a1a1a" stroke-width="1.35"/>
<line x1="775.8" y1="135" x2="775.8" y2="150.5" stroke="#1a1a1a" stroke-width="0.8"/>
<line x1="824.3" y1="135" x2="824.3" y2="150.5" stroke="#1a1a1a" stroke-width="0.8"/>
<rect x="794.4" y="162.6" width="11.4" height="3" fill="#fff" stroke="#1a1a1a" stroke-width="0.8"/>
<line x1="772" y1="150.8" x2="828.8" y2="150.8" stroke="#1a1a1a" stroke-width="1.7"/>
<rect x="790" y="293.9" width="21.4" height="4.1" fill="#fff" stroke="#1a1a1a" stroke-width="1.35"/>
<line x1="790" y1="294.1" x2="811.4" y2="294.1" stroke="#1a1a1a" stroke-width="1.6"/>
<rect x="773.8" y="287.9" width="54" height="5.5" fill="#fff" stroke="#1a1a1a" stroke-width="1.35"/>
<rect x="773.8" y="260.4" width="54" height="5.5" fill="#fff" stroke="#1a1a1a" stroke-width="1.35"/>
<rect x="778.3" y="253.4" width="44" height="6.5" fill="#fff" stroke="#1a1a1a" stroke-width="1.35"/>
<line x1="776.8" y1="260" x2="824.8" y2="260" stroke="#1a1a1a" stroke-width="1.8"/>
<rect x="776.3" y="244.9" width="49.3" height="8.5" rx="1.5" fill="#fff" stroke="#1a1a1a" stroke-width="1.35"/>
<line x1="799.3" y1="244.9" x2="799.3" y2="253.4" stroke="#1a1a1a" stroke-width="1.35"/>
<line x1="805.3" y1="244.9" x2="805.3" y2="253.4" stroke="#1a1a1a" stroke-width="1.35"/>
<rect x="773.5" y="266.2" width="54.6" height="21.4" rx="2" fill="#fff" stroke="#1a1a1a" stroke-width="1.2"/>
<path d="M776.8,269 Q787.8,265.4 798.8,269 L798.8,284.8 Q787.8,288.4 776.8,284.8 Z" fill="#fff" stroke="#1a1a1a" stroke-width="1.35"/>
<path d="M802.8,269 Q813.8,265.4 825.3,269 L825.3,284.8 Q813.8,288.4 802.8,284.8 Z" fill="#fff" stroke="#1a1a1a" stroke-width="1.35"/>
<path d="M767.9,276.2 L767.9,254 Q767.9,244.2 776.6,243 L776.6,246.6 Q771.7,247.4 771.7,254 L771.7,276.2 Z" fill="#fff" stroke="#1a1a1a" stroke-width="1.1"/>
<path d="M760.4,166.6 L776.2,168.2 L776.2,240.9 L760.4,243.1" fill="#fff" stroke="#1a1a1a" stroke-width="1.35"/>
<rect x="776.2" y="166" width="49.2" height="75.5" fill="#fff" stroke="#1a1a1a" stroke-width="1.2"/>
<path d="M828.8,161.6 L838,161.6 Q845,161.6 845,168.6 L845,238.9 Q845,245.9 838,245.9 L825.4,245.9" fill="none" stroke="#1a1a1a" stroke-width="1.2"/>
<path d="M828.8,164.9 L838,164.9 Q841.4,164.9 841.4,169.4 L841.4,238.1 Q841.4,242.6 838,242.6 L825.4,242.6" fill="none" stroke="#1a1a1a" stroke-width="1.1"/>
<path d="M825.4,168 L841.4,169.8" fill="none" stroke="#1a1a1a" stroke-width="0.9"/>
<path d="M825.4,240.3 L841.4,238.7" fill="none" stroke="#1a1a1a" stroke-width="0.9"/>
<line x1="822.8" y1="166" x2="822.8" y2="182.3" stroke="#1a1a1a" stroke-width="0.9"/>
<line x1="822.8" y1="230.3" x2="822.8" y2="241.5" stroke="#1a1a1a" stroke-width="0.9"/>
<path d="M845.8,182 L850.6,182 L852.8,184.8 L852.8,188.8 L850.6,191.6 L845.8,191.6 Z" fill="#fff" stroke="#1a1a1a" stroke-width="1.35"/>
<path d="M753.1,182 L750.8,182 L748.6,184.8 L748.6,188.8 L750.8,191.6 L753.1,191.6 Z" fill="#fff" stroke="#1a1a1a" stroke-width="1.35"/>
<path d="M845.8,216.1 L850.6,216.1 L852.8,218.9 L852.8,222.9 L850.6,225.7 L845.8,225.7 Z" fill="#fff" stroke="#1a1a1a" stroke-width="1.35"/>
<path d="M753.1,216.1 L750.8,216.1 L748.6,218.9 L748.6,222.9 L750.8,225.7 L753.1,225.7 Z" fill="#fff" stroke="#1a1a1a" stroke-width="1.35"/>
<ellipse cx="801.4" cy="206.3" rx="37.3" ry="34.7" fill="#fff" stroke="#1a1a1a" stroke-width="1.6"/>
<ellipse cx="801.4" cy="206.3" rx="35.2" ry="33.1" fill="none" stroke="#1a1a1a" stroke-width="0.9"/>
<ellipse cx="801.4" cy="206.3" rx="33.2" ry="31.7" fill="none" stroke="#1a1a1a" stroke-width="1.7"/>
<circle cx="801.4" cy="206.5" r="30" fill="none" stroke="#1a1a1a" stroke-width="1.3"/>
<rect x="748.7" y="140.9" width="4.4" height="12.8" rx="1.2" fill="#111" stroke="#1a1a1a" stroke-width="0.5"/>
<rect x="760.8" y="140.9" width="7.4" height="12.8" rx="1" fill="#111" stroke="#1a1a1a" stroke-width="0.5"/>
<rect x="748.7" y="254" width="4.4" height="12.8" rx="1.2" fill="#111" stroke="#1a1a1a" stroke-width="0.5"/>
<rect x="760.8" y="254" width="7.4" height="12.8" rx="1" fill="#111" stroke="#1a1a1a" stroke-width="0.5"/>
<path d="M786.06,182.6 A28.4,28.4 0 0 1 816.74,182.6 Z" fill="#262626" stroke="#1a1a1a" stroke-width="0.6"/>
<line x1="786.5" y1="182.6" x2="786.5" y2="206.3" stroke="#1a1a1a" stroke-width="1.1"/>
<line x1="814.1" y1="182.6" x2="814.1" y2="206.3" stroke="#1a1a1a" stroke-width="1.1"/>
<path d="M786.5,206.3 L785,210.6 L785,217.2 L815.6,217.2 L815.6,210.6 L814.1,206.3" fill="none" stroke="#1a1a1a" stroke-width="1.1"/>
<line x1="785" y1="210.8" x2="815.6" y2="210.8" stroke="#1a1a1a" stroke-width="1.2"/>
<line x1="785" y1="217.2" x2="815.6" y2="217.2" stroke="#1a1a1a" stroke-width="1.8"/>
<rect x="782.4" y="218.3" width="35.1" height="8.1" fill="none" stroke="#1a1a1a" stroke-width="1.2"/>
<line x1="782.4" y1="222" x2="817.5" y2="222" stroke="#1a1a1a" stroke-width="1"/>
<path d="M780.58,226.4 A28.8,28.8 0 0 0 822.22,226.4 Z" fill="#262626" stroke="#1a1a1a" stroke-width="0.6"/>
<path d="M847.1,494.6 L883.9,494.6 C891,508 900.1,526 900.7,543.6 Q900.5,553 899.1,563.2 L835.1,563.2 Q833.5,553 833.1,543.6 C833.7,526 840.7,508 847.1,494.6 Z" fill="#fff" stroke="#1a1a1a" stroke-width="1.1"/>
<line x1="833.1" y1="543.6" x2="900.7" y2="543.6" stroke="#1a1a1a" stroke-width="0.9"/>
<line x1="833.1" y1="545.6" x2="900.7" y2="545.6" stroke="#1a1a1a" stroke-width="0.9"/>
<ellipse cx="850.9" cy="516.1" rx="4.3" ry="16.6" fill="none" stroke="#1a1a1a" stroke-width="1.35" transform="rotate(12 850.9 516.1)"/>
<ellipse cx="882.5" cy="515.8" rx="4.5" ry="16.6" fill="none" stroke="#1a1a1a" stroke-width="1.35" transform="rotate(-13 882.5 515.8)"/>
<rect x="855.5" y="689.6" width="21.4" height="4.1" fill="#fff" stroke="#1a1a1a" stroke-width="1.35"/>
<line x1="855.5" y1="689.8" x2="876.9" y2="689.8" stroke="#1a1a1a" stroke-width="1.6"/>
<rect x="839.3" y="683.6" width="54" height="5.5" fill="#fff" stroke="#1a1a1a" stroke-width="1.35"/>
<rect x="839.3" y="656.1" width="54" height="5.5" fill="#fff" stroke="#1a1a1a" stroke-width="1.35"/>
<rect x="843.8" y="649.1" width="44" height="6.5" fill="#fff" stroke="#1a1a1a" stroke-width="1.35"/>
<line x1="842.3" y1="655.7" x2="890.3" y2="655.7" stroke="#1a1a1a" stroke-width="1.8"/>
<rect x="841.8" y="640.6" width="49.3" height="8.5" rx="1.5" fill="#fff" stroke="#1a1a1a" stroke-width="1.35"/>
<line x1="864.8" y1="640.6" x2="864.8" y2="649.1" stroke="#1a1a1a" stroke-width="1.35"/>
<line x1="870.8" y1="640.6" x2="870.8" y2="649.1" stroke="#1a1a1a" stroke-width="1.35"/>
<rect x="839" y="661.9" width="54.6" height="21.4" rx="2" fill="#fff" stroke="#1a1a1a" stroke-width="1.2"/>
<path d="M842.3,664.7 Q853.3,661.1 864.3,664.7 L864.3,680.5 Q853.3,684.1 842.3,680.5 Z" fill="#fff" stroke="#1a1a1a" stroke-width="1.35"/>
<path d="M868.3,664.7 Q879.3,661.1 890.8,664.7 L890.8,680.5 Q879.3,684.1 868.3,680.5 Z" fill="#fff" stroke="#1a1a1a" stroke-width="1.35"/>
<path d="M834.2,672.4 L834.2,651 Q834.2,641 843,639.8 L843,643.4 Q838.2,644.2 838.2,651 L838.2,672.4 Z" fill="#fff" stroke="#1a1a1a" stroke-width="1.1"/>
<path d="M826.4,564.5 L842,566.1 L842,639.3 L826.4,641.5" fill="#fff" stroke="#1a1a1a" stroke-width="1.35"/>
<rect x="842" y="563.9" width="49.2" height="76" fill="#fff" stroke="#1a1a1a" stroke-width="1.2"/>
<path d="M899.5,557.6 L903.8,557.6 Q910.8,557.6 910.8,564.6 L910.8,634.9 Q910.8,641.9 903.8,641.9 L891.2,641.9" fill="none" stroke="#1a1a1a" stroke-width="1.2"/>
<path d="M899.5,560.9 L903.8,560.9 Q907.2,560.9 907.2,565.4 L907.2,634.1 Q907.2,638.6 903.8,638.6 L891.2,638.6" fill="none" stroke="#1a1a1a" stroke-width="1.1"/>
<path d="M891.2,565.9 L907.2,567.7" fill="none" stroke="#1a1a1a" stroke-width="0.9"/>
<path d="M891.2,638.7 L907.2,637.1" fill="none" stroke="#1a1a1a" stroke-width="0.9"/>
<line x1="888.6" y1="563.9" x2="888.6" y2="578.3" stroke="#1a1a1a" stroke-width="0.9"/>
<line x1="888.6" y1="626.3" x2="888.6" y2="639.9" stroke="#1a1a1a" stroke-width="0.9"/>
<path d="M911.6,578 L916.4,578 L918.6,580.8 L918.6,584.8 L916.4,587.6 L911.6,587.6 Z" fill="#fff" stroke="#1a1a1a" stroke-width="1.35"/>
<path d="M819.1,578 L816.8,578 L814.6,580.8 L814.6,584.8 L816.8,587.6 L819.1,587.6 Z" fill="#fff" stroke="#1a1a1a" stroke-width="1.35"/>
<path d="M911.6,612.1 L916.4,612.1 L918.6,614.9 L918.6,618.9 L916.4,621.7 L911.6,621.7 Z" fill="#fff" stroke="#1a1a1a" stroke-width="1.35"/>
<path d="M819.1,612.1 L816.8,612.1 L814.6,614.9 L814.6,618.9 L816.8,621.7 L819.1,621.7 Z" fill="#fff" stroke="#1a1a1a" stroke-width="1.35"/>
<ellipse cx="867.2" cy="602.3" rx="37.3" ry="34.7" fill="#fff" stroke="#1a1a1a" stroke-width="1.6"/>
<ellipse cx="867.2" cy="602.3" rx="35.2" ry="33.1" fill="none" stroke="#1a1a1a" stroke-width="0.9"/>
<ellipse cx="867.2" cy="602.3" rx="33.2" ry="31.7" fill="none" stroke="#1a1a1a" stroke-width="1.7"/>
<circle cx="867.2" cy="602.5" r="30" fill="none" stroke="#1a1a1a" stroke-width="1.3"/>
<rect x="814.6" y="536.8" width="4.4" height="12.8" rx="1.2" fill="#111" stroke="#1a1a1a" stroke-width="0.5"/>
<rect x="826.7" y="536.8" width="7.4" height="12.8" rx="1" fill="#111" stroke="#1a1a1a" stroke-width="0.5"/>
<rect x="814.6" y="650.5" width="4.4" height="12.8" rx="1.2" fill="#111" stroke="#1a1a1a" stroke-width="0.5"/>
<rect x="826.7" y="650.5" width="7.4" height="12.8" rx="1" fill="#111" stroke="#1a1a1a" stroke-width="0.5"/>
<path d="M850.74,579.6 A28.2,28.2 0 0 1 883.66,579.6 Z" fill="#262626" stroke="#1a1a1a" stroke-width="0.6"/>
<path d="M855.4,579.8 L856.9,582.3 L876.5,582.3 L877.7,579.8" fill="#fff" stroke="#1a1a1a" stroke-width="1"/>
<line x1="862.2" y1="582.3" x2="862.2" y2="608.4" stroke="#1a1a1a" stroke-width="1.1"/>
<line x1="870.9" y1="582.3" x2="870.9" y2="608.4" stroke="#1a1a1a" stroke-width="1.1"/>
<rect x="858.3" y="608.4" width="14.6" height="2.9" fill="#fff" stroke="#1a1a1a" stroke-width="1"/>
<rect x="851.6" y="611.3" width="29" height="7.3" rx="2" fill="#fff" stroke="#1a1a1a" stroke-width="1.3"/>
<path d="M859.9,618.6 L863.5,622.9 L869.5,622.9 L872.9,618.6" fill="#fff" stroke="#1a1a1a" stroke-width="1"/>
<path d="M848.5,624.4 A28.8,28.8 0 0 0 885.9,624.4 Z" fill="#262626" stroke="#1a1a1a" stroke-width="0.6"/>
<line x1="800.4" y1="53.8" x2="800.4" y2="97.5" stroke="#222" stroke-width="1"/>
<line x1="800.4" y1="104" x2="800.4" y2="105.5" stroke="#222" stroke-width="1"/>
<line x1="800.4" y1="110" x2="800.4" y2="111.5" stroke="#222" stroke-width="1"/>
<line x1="800.4" y1="118" x2="800.4" y2="182" stroke="#222" stroke-width="1"/>
<line x1="800.4" y1="188" x2="800.4" y2="189.5" stroke="#222" stroke-width="1"/>
<line x1="800.4" y1="194" x2="800.4" y2="195.5" stroke="#222" stroke-width="1"/>
<line x1="800.4" y1="201" x2="800.4" y2="247" stroke="#222" stroke-width="1"/>
<line x1="800.4" y1="252" x2="800.4" y2="253.5" stroke="#222" stroke-width="1"/>
<line x1="800.4" y1="258" x2="800.4" y2="259.5" stroke="#222" stroke-width="1"/>
<line x1="800.4" y1="264.5" x2="800.4" y2="323.6" stroke="#222" stroke-width="1"/>
<line x1="725.6" y1="206.2" x2="884.8" y2="206.2" stroke="#222" stroke-width="1"/>
<line x1="866.5" y1="487" x2="866.5" y2="548.6" stroke="#222" stroke-width="1"/>
<line x1="866.5" y1="555.2" x2="866.5" y2="556.4" stroke="#222" stroke-width="1"/>
<line x1="866.5" y1="561.5" x2="866.5" y2="711.7" stroke="#222" stroke-width="1"/>
<line x1="797.6" y1="602.9" x2="857.4" y2="602.9" stroke="#222" stroke-width="1"/>
<line x1="879.7" y1="602.9" x2="932" y2="602.9" stroke="#222" stroke-width="1"/>
<line x1="864.4" y1="602.9" x2="865.8" y2="602.9" stroke="#222" stroke-width="1"/>
<line x1="871.7" y1="602.9" x2="873.1" y2="602.9" stroke="#222" stroke-width="1"/>
</g>
</svg>
<table class="t"><tr class="h"><td colspan="12"></td></tr>
<tr class="a"><td></td><td>2</td><td>3</td><td>4</td><td>5</td><td>6</td><td>7</td><td>8</td><td>9</td><td>10</td><td>11</td><td>12</td></tr>
<tr class="b"><td>L</td><td>100</td><td>150</td><td>200</td><td>250</td><td>300</td><td>350</td><td>400</td><td>450</td><td>500</td><td>550</td><td>600</td></tr></table>
</body></html>
